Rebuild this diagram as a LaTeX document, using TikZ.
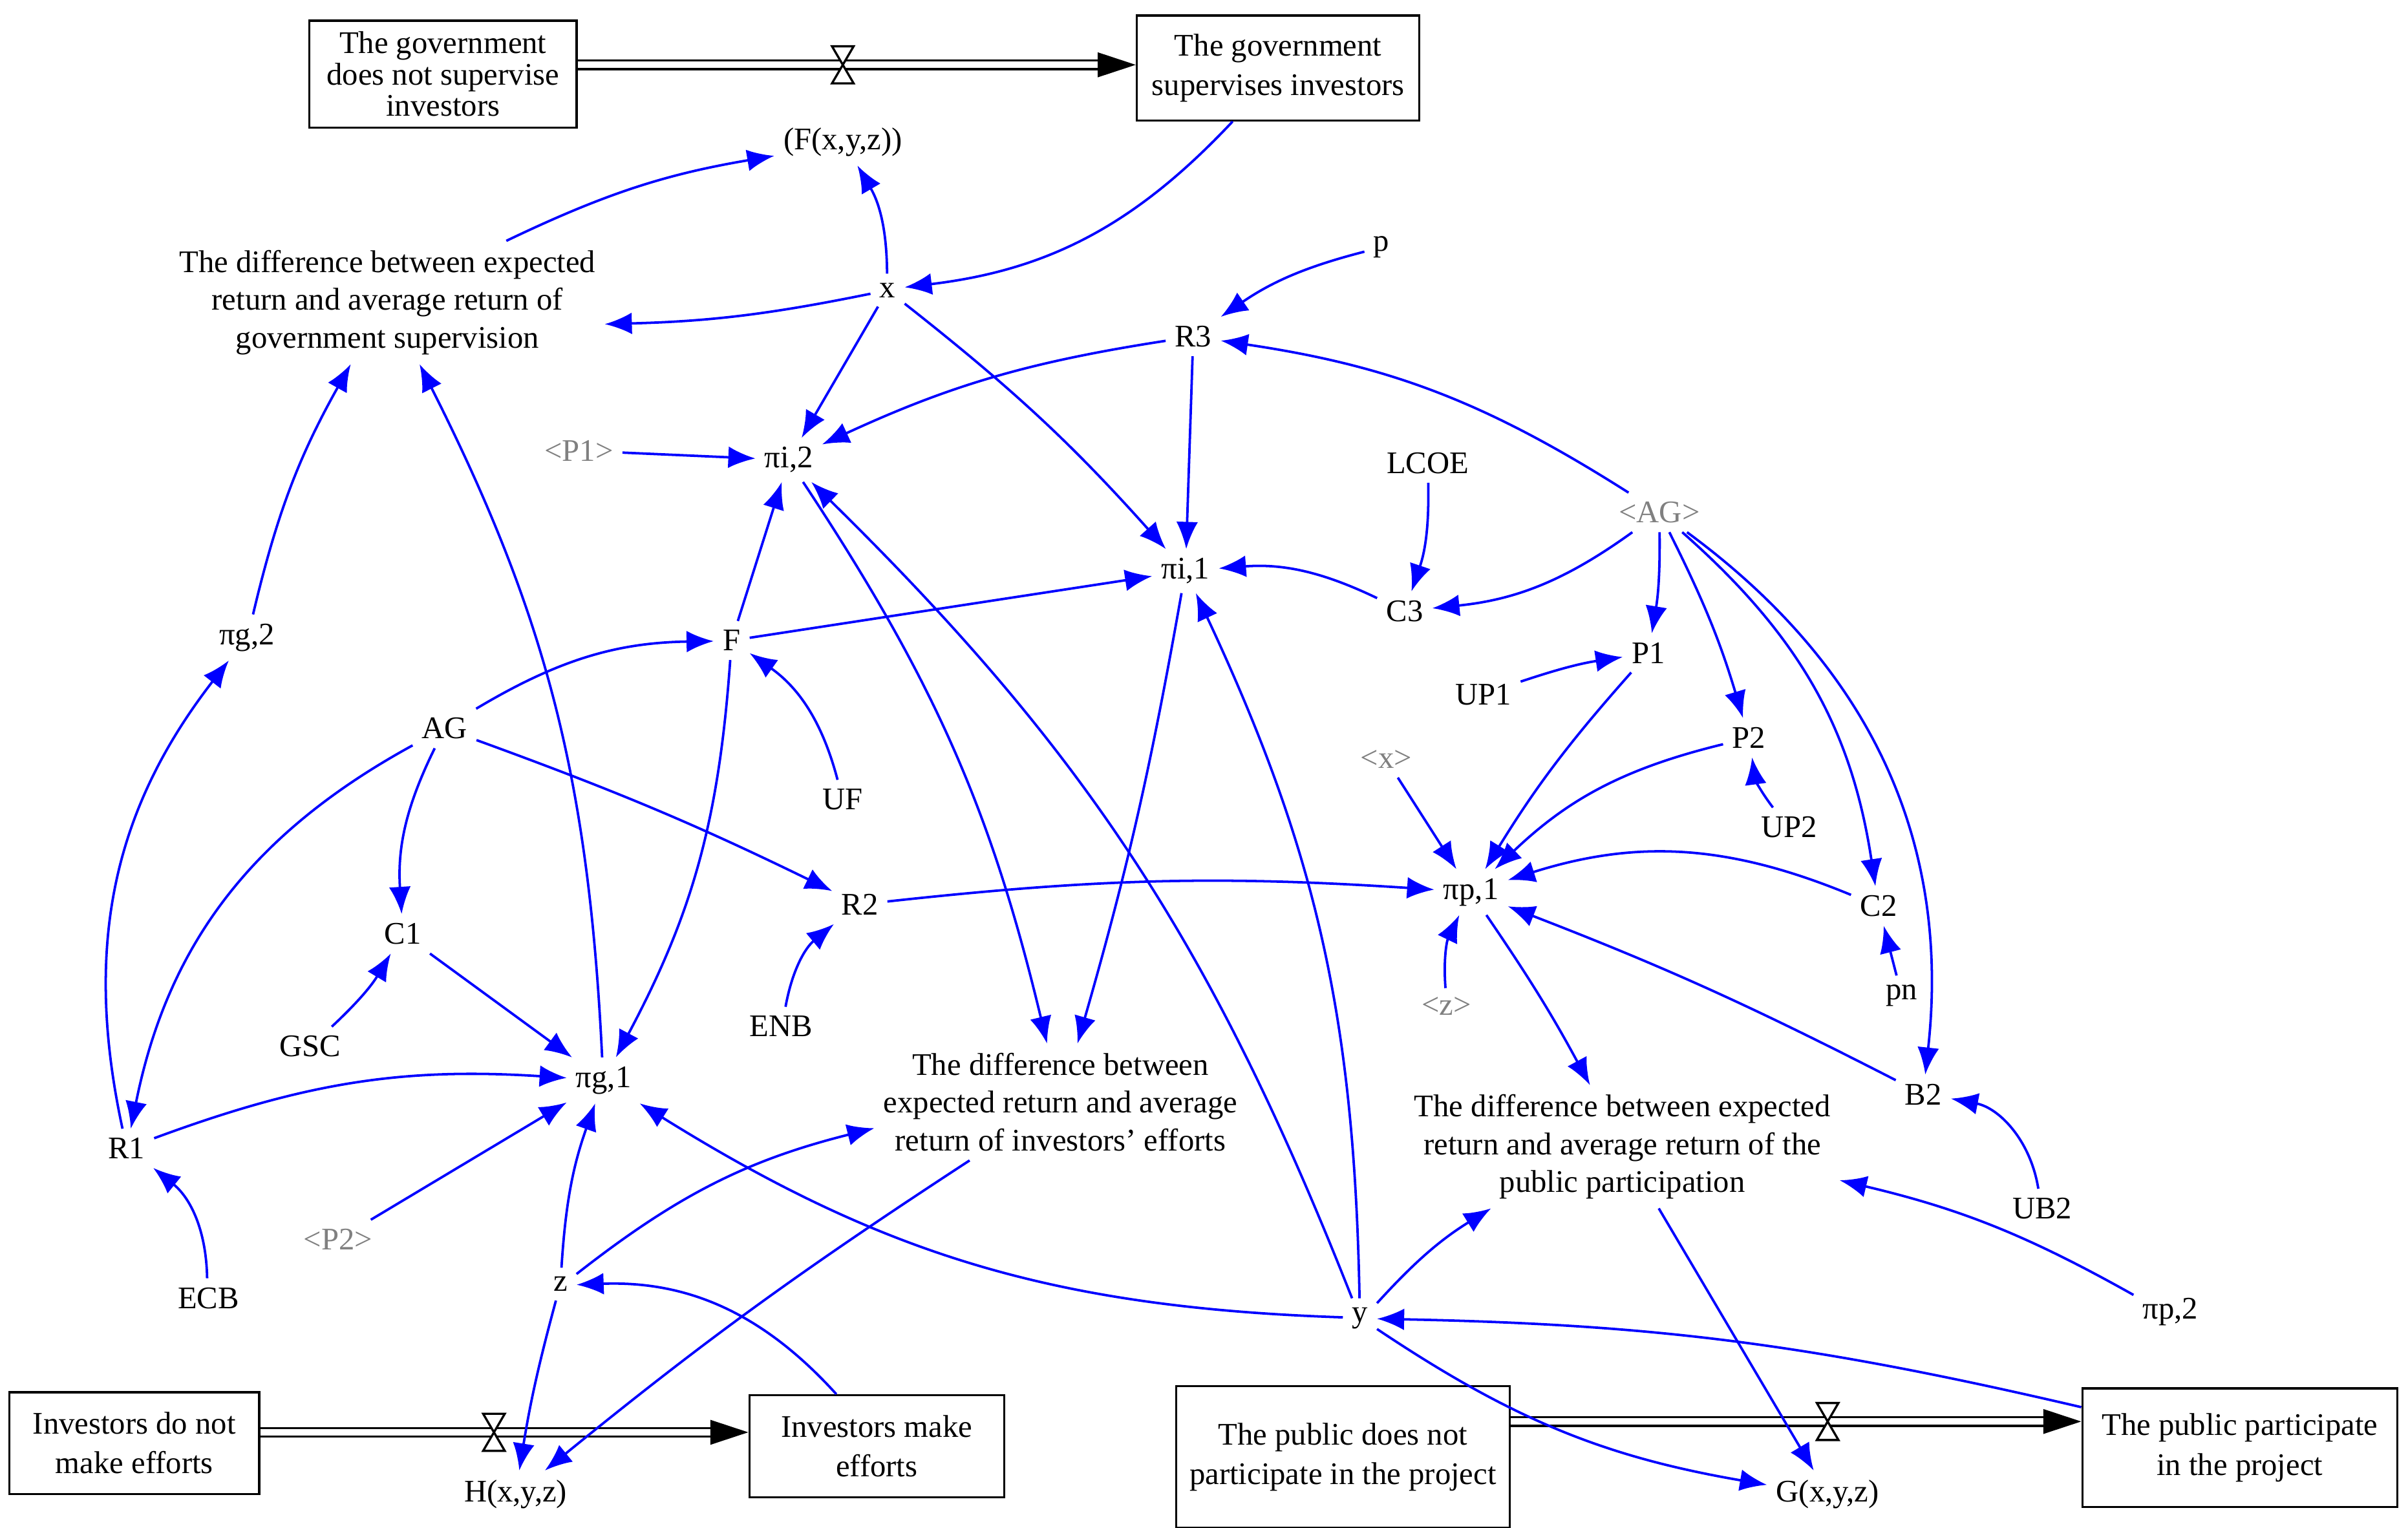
\documentclass[tikz,border=0pt]{standalone}
\usepackage{fontspec}
\setmainfont{Liberation Serif}
\usetikzlibrary{arrows.meta}
\definecolor{linkblue}{RGB}{0,0,255}
\tikzstyle{var}=[inner sep=1.5pt,font=\fontsize{5.8}{7}\selectfont]
\tikzstyle{shadow}=[var,text=gray]
\tikzstyle{note}=[var,align=center]
\tikzstyle{stock}=[draw=black,line width=0.4pt,align=center,inner sep=2pt,font=\fontsize{5.8}{5.8}\selectfont]
\tikzstyle{link}=[-{Latex[length=5pt,width=4pt]},draw=linkblue,line width=0.45pt]
\tikzstyle{flow}=[-{Triangle[length=7pt,width=4.5pt]},double=white,double distance=1.2pt,line width=0.4pt,draw=black]
\tikzstyle{valve}=[draw=black,fill=white,line width=0.4pt]
\begin{document}
\begin{tikzpicture}
  \useasboundingbox (0,0) rectangle (15.6,-9.9);
  % stocks
  \node [style=stock,minimum width=1.73cm,minimum height=0.66cm] (gnot) at (2.87,-0.48) {The government\\does not supervise\\investors};
  \node [style=stock,minimum width=1.83cm,minimum height=0.68cm] (gsup) at (8.28,-0.44) {The government\\[1.5pt]supervises investors};
  \node [style=stock,minimum width=1.62cm,minimum height=0.66cm] (inot) at (0.87,-9.35) {Investors do not\\[1.5pt]make efforts};
  \node [style=stock,minimum width=1.65cm,minimum height=0.66cm] (imake) at (5.68,-9.37) {Investors make\\[1.5pt]efforts};
  \node [style=stock,minimum width=2.16cm,minimum height=0.92cm] (pnot) at (8.70,-9.44) {The public does not\\[1.5pt]participate in the project};
  \node [style=stock,minimum width=2.04cm,minimum height=0.77cm] (ppart) at (14.51,-9.38) {The public participate\\[1.5pt]in the project};
  % variables
  \node [style=var] (fxyz) at (5.46,-0.92) {(F(x,y,z))};
  \node [style=note] (diffg) at (2.51,-1.96) {The difference between expected\\return and average return of\\government supervision};
  \node [style=var] (x) at (5.75,-1.88) {x};
  \node [style=var] (p) at (8.95,-1.60) {p};
  \node [style=var] (r3) at (7.73,-2.18) {R3};
  \node [style=shadow] (p1s) at (3.75,-2.92) {<P1>};
  \node [style=var] (pii2) at (5.11,-2.98) {πi,2};
  \node [style=var] (lcoe) at (9.25,-3.00) {LCOE};
  \node [style=shadow] (ags) at (10.75,-3.32) {<AG>};
  \node [style=var] (pii1) at (7.68,-3.70) {πi,1};
  \node [style=var] (c3) at (9.10,-3.96) {C3};
  \node [style=var] (pig2) at (1.60,-4.13) {πg,2};
  \node [style=var] (f) at (4.74,-4.15) {F};
  \node [style=var] (p1) at (10.68,-4.23) {P1};
  \node [style=var] (up1) at (9.61,-4.50) {UP1};
  \node [style=var] (ag) at (2.88,-4.72) {AG};
  \node [style=var] (p2) at (11.33,-4.78) {P2};
  \node [style=shadow] (xs) at (8.98,-4.92) {<x>};
  \node [style=var] (uf) at (5.46,-5.18) {UF};
  \node [style=var] (up2) at (11.59,-5.36) {UP2};
  \node [style=var] (c2) at (12.17,-5.87) {C2};
  \node [style=var] (r2) at (5.57,-5.86) {R2};
  \node [style=var] (pip1) at (9.53,-5.78) {πp,1};
  \node [style=var] (c1) at (2.61,-6.05) {C1};
  \node [style=shadow] (zs) at (9.37,-6.52) {<z>};
  \node [style=var] (pn) at (12.32,-6.45) {pn};
  \node [style=var] (enb) at (5.06,-6.65) {ENB};
  \node [style=var] (gsc) at (2.01,-6.78) {GSC};
  \node [style=note] (diffi) at (6.87,-7.14) {The difference between\\expected return and average\\return of investors\symbol{39} efforts};
  \node [style=var] (pig1) at (3.91,-7.00) {πg,1};
  \node [style=var] (b2) at (12.46,-7.09) {B2};
  \node [style=note] (diffp) at (10.51,-7.43) {The difference between expected\\return and average return of the\\public participation};
  \node [style=var] (r1) at (0.82,-7.44) {R1};
  \node [style=var] (ub2) at (13.23,-7.83) {UB2};
  \node [style=shadow] (p2s) at (2.19,-8.03) {<P2>};
  \node [style=var] (ecb) at (1.35,-8.41) {ECB};
  \node [style=var] (z) at (3.63,-8.32) {z};
  \node [style=var] (y) at (8.81,-8.54) {y};
  \node [style=var] (pip2) at (14.06,-8.50) {πp,2};
  \node [style=var] (hxyz) at (3.34,-9.68) {H(x,y,z)};
  \node [style=var] (gxyz) at (11.84,-9.68) {G(x,y,z)};
  % flows
  \draw [style=flow] (gnot.east|-0,-0.42) to (gsup.west|-0,-0.42);
  \draw [style=flow] (inot.east|-0,-9.28) to (imake.west|-0,-9.28);
  \draw [style=flow] (pnot.east|-0,-9.21) to (ppart.west|-0,-9.21);
  \draw [style=valve] (5.39,-0.30) -- (5.53,-0.30) -- (5.39,-0.54) -- (5.53,-0.54) -- cycle;
  \draw [style=valve] (3.13,-9.16) -- (3.27,-9.16) -- (3.13,-9.40) -- (3.27,-9.40) -- cycle;
  \draw [style=valve] (11.77,-9.09) -- (11.91,-9.09) -- (11.77,-9.33) -- (11.91,-9.33) -- cycle;
  % links
  \draw [style=link] (gsup) to [bend left=20] (x);
  \draw [style=link] (x) to [bend right=15] (fxyz);
  \draw [style=link] (diffg) to [bend left=8] (fxyz);
  \draw [style=link] (x) to [bend left=5] (diffg.east|-0,-2.10);
  \draw [style=link] (x) to (pii2);
  \draw [style=link] (x) to [bend left=5] (pii1);
  \draw [style=link] (p) to [bend right=10] (r3);
  \draw [style=link] (r3) to [bend right=8] (pii2);
  \draw [style=link] (r3) to (pii1);
  \draw [style=link] (ags) to [bend right=12] (r3);
  \draw [style=link] (p1s) to (pii2);
  \draw [style=link] (f) to (pii2);
  \draw [style=link] (pii2) to [bend left=10] (diffi);
  \draw [style=link] (y) to [bend right=12] (pii2);
  \draw [style=link] (lcoe) to [bend left=10] (c3);
  \draw [style=link] (c3) to [bend right=15] (pii1);
  \draw [style=link] (ags) to [bend left=15] (c3);
  \draw [style=link] (f) to (pii1);
  \draw [style=link] (pii1) to [bend left=3] (diffi);
  \draw [style=link] (y) to [bend right=12] (pii1);
  \draw [style=link] (ag) to [bend left=15] (f);
  \draw [style=link] (uf) to [bend right=20] (f);
  \draw [style=link] (f) to [bend left=12] (pig1);
  \draw [style=link] (ag) to [bend right=15] (c1);
  \draw [style=link] (ag) to [bend right=25] (r1);
  \draw [style=link] (ag) to [bend left=3] (r2);
  \draw [style=link] (r1) to [bend left=25] (pig2);
  \draw [style=link] (pig2) to [bend left=8] (diffg);
  \draw [style=link] (pig1) to [bend right=12] (diffg);
  \draw [style=link] (ags) to [bend left=5] (p1);
  \draw [style=link] (ags) to [bend left=5] (p2);
  \draw [style=link] (ags) to [bend left=20] (c2);
  \draw [style=link] (ags) to [bend left=30] (b2);
  \draw [style=link] (up1) to [bend left=5] (p1);
  \draw [style=link] (p1) to [bend right=5] (pip1);
  \draw [style=link] (p2) to [bend right=15] (pip1);
  \draw [style=link] (up2) to [bend left=15] (p2);
  \draw [style=link] (xs) to (pip1);
  \draw [style=link] (c2) to [bend right=20] (pip1);
  \draw [style=link] (pn) to (c2);
  \draw [style=link] (r2) to [bend left=5] (pip1);
  \draw [style=link] (enb) to [bend left=20] (r2);
  \draw [style=link] (zs) to [bend left=15] (pip1);
  \draw [style=link] (b2) to [bend right=3] (pip1);
  \draw [style=link] (ub2) to [bend right=35] (b2);
  \draw [style=link] (pip1) to [bend left=3] (diffp);
  \draw [style=link] (pip2) to [bend right=8] (diffp);
  \draw [style=link] (c1) to (pig1);
  \draw [style=link] (gsc) to [bend right=8] (c1);
  \draw [style=link] (r1) to [bend left=12] (pig1);
  \draw [style=link] (p2s) to (pig1);
  \draw [style=link] (z) to [bend left=8] (pig1);
  \draw [style=link] (y) to [bend left=15] (pig1);
  \draw [style=link] (z) to [bend left=12] (diffi);
  \draw [style=link] (diffi) to [bend right=3] (hxyz);
  \draw [style=link] (z) to [bend right=3] (hxyz);
  \draw [style=link] (imake) to [bend right=25] (z);
  \draw [style=link] (y) to [bend left=8] (diffp);
  \draw [style=link] (y) to [bend right=12] (gxyz);
  \draw [style=link] (diffp) to (gxyz);
  \draw [style=link] (ppart) to [bend right=6] (y);
  \draw [style=link] (ecb) to [bend right=25] (r1);
\end{tikzpicture}
\end{document}
